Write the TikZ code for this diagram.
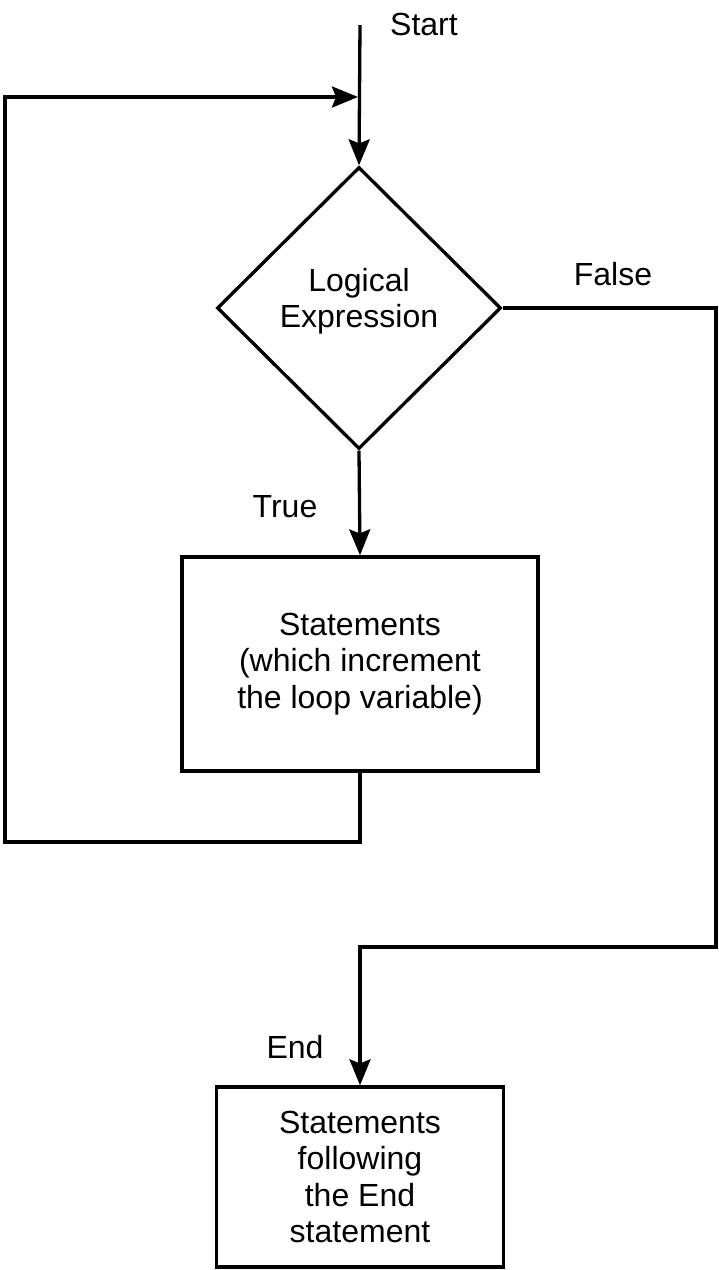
\documentclass[tikz,border=0pt]{standalone}
\usepackage{fontspec}
\setmainfont{Liberation Sans}
\usetikzlibrary{shapes.geometric,arrows.meta}
\begin{document}
\begin{tikzpicture}[x=1pt,y=-1pt,
  line width=3.3pt,
  every node/.style={font=\fontsize{32}{36.5}\selectfont, align=center},
  decision/.style={draw, diamond, minimum width=284pt, minimum height=282pt, inner sep=0pt},
  stepbox/.style={draw, rectangle, inner sep=0pt},
  flow/.style={-{Stealth[length=26pt,width=21pt,inset=4pt]}},
  lbl/.style={anchor=base}]
\useasboundingbox (0,0) rectangle (719,1270);

% decision and statement blocks
\node[decision] (cond) at (359,308) {};
\node (condtext) at (359,301) {Logical\\Expression};
\node[stepbox, minimum width=356pt, minimum height=214pt] (body) at (360,664)
  {Statements\\(which increment\\the loop variable)};
\node[stepbox, minimum width=287pt, minimum height=180pt] (exit) at (360,1177)
  {Statements\\following\\the End\\statement};

% labels on the flow lines
\node[lbl] (startlbl) at (424,35) {Start};
\node[lbl] (falselbl) at (613,285) {False};
\node[lbl] (truelbl) at (285,517) {True};
\node[lbl] (endlbl) at (295,1058) {End};

% corner points of the routed lines
\coordinate (start) at (360,25);
\coordinate (join) at (358,97);
\coordinate (loopbl) at (5,842);
\coordinate (looptl) at (5,97);
\coordinate (falsetr) at (716,308);
\coordinate (falsebr) at (716,947);

% connectors
\draw[flow] (start) -- (cond.north);
\draw[flow] (cond.south) -- (body.north);
\draw[flow] (body.south) |- (loopbl) -- (looptl) -- (join);
\draw[flow] (cond.east) -- (falsetr) -- (falsebr) -| (exit.north);
\end{tikzpicture}
\end{document}
